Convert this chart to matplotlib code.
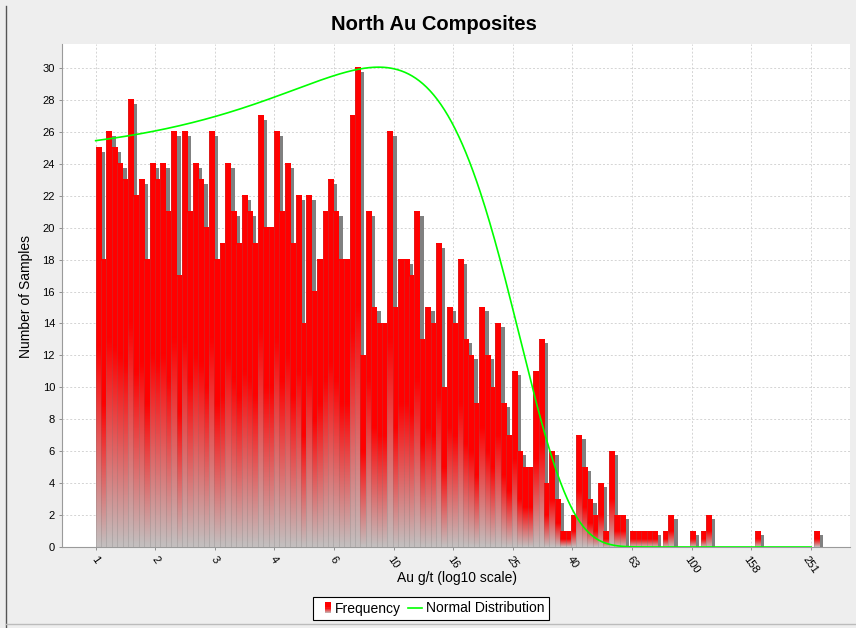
import numpy as np
import matplotlib
matplotlib.use('Agg')
import matplotlib.pyplot as plt
from matplotlib.patches import Rectangle
from matplotlib.lines import Line2D
from matplotlib.legend_handler import HandlerBase

plt.rcParams['font.family'] = ['Liberation Sans', 'DejaVu Sans']

# ---------------- data ----------------
counts = [25, 18, 26, 25, 24, 23, 28, 22, 23, 18,
          24, 23, 24, 21, 26, 17, 26, 21, 24, 23,
          20, 26, 18, 19, 24, 21, 19, 22, 21, 19,
          27, 20, 20, 26, 21, 24, 19, 22, 14, 22,
          16, 18, 21, 23, 21, 18, 18, 27, 30, 12,
          21, 15, 14, 14, 26, 15, 18, 18, 17, 21,
          13, 15, 14, 19, 10, 15, 14, 18, 13, 12,
          9, 15, 12, 10, 14, 9, 7, 11, 6, 5,
          5, 11, 13, 4, 6, 3, 1, 1, 2, 7,
          5, 3, 2, 4, 1, 6, 2, 2, 0, 1,
          1, 1, 1, 1, 0, 1, 2, 0, 0, 0,
          1, 0, 1, 2, 0, 0, 0, 0, 0, 0,
          0, 0, 1, 0, 0, 0, 0, 0, 0, 0,
          0, 0, 0, 1]
bin_start_log10 = 0.0          # first bin starts at 1 g/t
bin_width_log10 = 0.01813      # width of each bin in log10 units

tick_values = [1, 1.585, 2.512, 3.981, 6.310, 10, 15.85, 25.12, 39.81, 63.10, 100, 158.5, 251.2]
tick_labels = ["1", "2", "3", "4", "6", "10", "16", "25", "40", "63", "100", "158", "251"]
y_ticks = list(range(0, 31, 2))

normal_mean = 8.9
normal_sd = 13.7
normal_peak = 30.05
curve_range = (1.0, 252.0)

# ---------------- figure ----------------
W, H = 856, 628
fig = plt.figure(figsize=(W / 100, H / 100), dpi=100, facecolor='#eeeeee')
L, R, T, B = 62, 850, 44, 547
ax = fig.add_axes([L / W, 1 - B / H, (R - L) / W, (B - T) / H])
ax.set_facecolor('white')

xlim = (-0.113, 2.532)
ylim = (0, 31.5)
px_per_x = (R - L) / (xlim[1] - xlim[0])
px_per_y = (B - T) / (ylim[1] - ylim[0])
sdx = 4 / px_per_x
sdy = 4 / px_per_y

# gradient: red for top half, fading to light gray at bottom
n = 64
t = np.linspace(0, 1, n)  # 0 top -> 1 bottom
f = np.clip((t - 0.5) / 0.5, 0, 1)[:, None]
red = np.array([1.0, 0.0, 0.0])
gray = np.array([195, 190, 190]) / 255
grad = (red * (1 - f) + gray * f)[:, None, :]

z = 2
for i, c in enumerate(counts):
    if c <= 0:
        continue
    x0 = bin_start_log10 + i * bin_width_log10
    w = bin_width_log10
    ax.add_patch(Rectangle((x0 + sdx, -sdy), w, c, facecolor='#808080',
                           edgecolor='none', zorder=z))
    ax.imshow(grad, extent=[x0, x0 + w, 0, c], aspect='auto', origin='upper',
              interpolation='bilinear', zorder=z + 0.5)
    ax.plot([x0, x0], [0, c], color=(0.45, 0.45, 0.45, 0.28), lw=0.6,
            solid_capstyle='butt', zorder=z + 0.6)
    z += 1

# normal distribution curve (normal in linear Au g/t, drawn on log axis)
v = np.logspace(np.log10(curve_range[0]), np.log10(curve_range[1]), 600)
fv = normal_peak * np.exp(-(v - normal_mean) ** 2 / (2 * normal_sd ** 2))
ax.plot(np.log10(v), fv, color='#00ff00', lw=1.2, zorder=z + 5)

ax.set_xlim(*xlim)
ax.set_ylim(*ylim)
ax.set_xticks(np.log10(tick_values))
ax.set_xticklabels(tick_labels, rotation=-55, ha='center', va='top', fontsize=8)
ax.set_yticks(y_ticks)
ax.set_yticklabels([str(y) for y in y_ticks], fontsize=8)
ax.tick_params(axis='both', length=2, width=0.6, color='#808080', pad=3)
ax.grid(True, color='#d4d4d4', linestyle=(0, (2, 2)), linewidth=0.7)
ax.set_axisbelow(True)
for s in ['top', 'right']:
    ax.spines[s].set_visible(False)
for s in ['left', 'bottom']:
    ax.spines[s].set_color('#9a9a9a')
    ax.spines[s].set_linewidth(0.8)

# outer panel frame lines
fig.add_artist(Line2D([5.5 / W, 5.5 / W], [0, 1 - 6 / H], color='#555555',
                      lw=1, transform=fig.transFigure))
fig.add_artist(Line2D([5.5 / W, 1], [1 - 623.5 / H, 1 - 623.5 / H],
                      color='#bbbbbb', lw=1, transform=fig.transFigure))

fig.text(434 / W, 1 - 25 / H, "North Au Composites", ha='center', va='center',
         fontsize=14.5, fontweight='bold')
fig.text(457 / W, 1 - 578 / H, "Au g/t (log10 scale)", ha='center', va='center',
         fontsize=10)
fig.text(26 / W, 1 - 296 / H, "Number of Samples", ha='center', va='center',
         rotation=90, fontsize=10)


class GradientHandler(HandlerBase):
    def create_artists(self, legend, orig_handle, xdescent, ydescent, width,
                       height, fontsize, trans):
        arts = []
        k = 10
        bw = 4.5
        bh = height * 1.15
        bx = width - bw
        by = -ydescent - 0.05 * height
        for j in range(k):
            tt = (j + 0.5) / k  # 0 bottom -> 1 top
            ff = np.clip((0.5 - tt) / 0.5, 0, 1)
            col = red * (1 - ff) + gray * ff
            arts.append(Rectangle((bx, by + j * bh / k), bw, bh / k + 0.2,
                                  facecolor=col, edgecolor='none',
                                  transform=trans))
        return arts


class GradHandle:
    pass


handles = [GradHandle(), Line2D([], [], color='#00ff00', lw=1.2)]
leg = fig.legend(handles, ["Frequency", "Normal Distribution"],
                 handler_map={GradHandle: GradientHandler()},
                 loc='center', bbox_to_anchor=(431 / W, 1 - 608.5 / H), ncol=2,
                 fontsize=10, frameon=True, fancybox=False, framealpha=1,
                 edgecolor='black', borderpad=0.3, handlelength=1.0,
                 handletextpad=0.3, columnspacing=0.5)
leg.get_frame().set_linewidth(0.8)

fig.savefig('out.png', dpi=100, facecolor=fig.get_facecolor())
